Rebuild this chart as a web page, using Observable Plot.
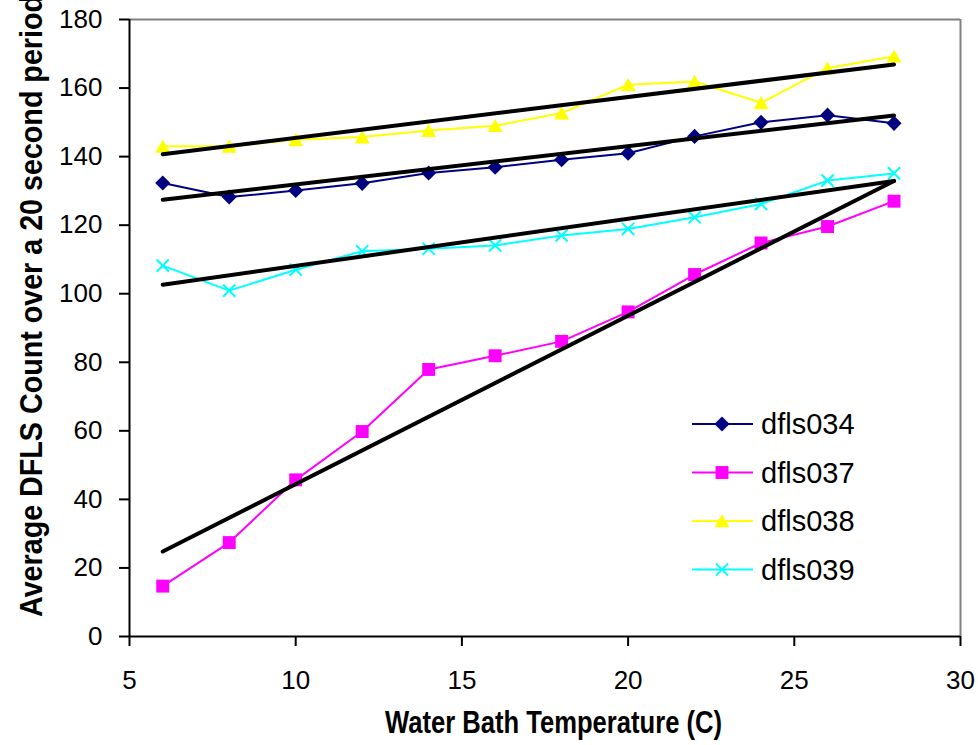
<!DOCTYPE html>
<html><head><meta charset="utf-8">
<script src="https://cdn.jsdelivr.net/npm/d3@7"></script>
<script src="https://cdn.jsdelivr.net/npm/@observablehq/plot@0.6"></script>
<style>body{margin:0;background:#fff;} svg{display:block;}</style>
</head><body><div id="chart"></div>
<script>
const temps = [6, 8, 10, 12, 14, 16, 18, 20, 22, 24, 26, 28];
const dfls034 = [132.3, 128.2, 130.1, 132.2, 135.2, 136.9, 139.1, 141.0, 145.9, 150.0, 152.1, 149.7];
const dfls037 = [14.7, 27.4, 45.7, 59.8, 77.9, 81.9, 86.1, 94.7, 105.6, 114.8, 119.6, 127.0];
const dfls038 = [143.0, 143.0, 144.9, 145.7, 147.6, 149.0, 152.7, 161.0, 161.9, 155.7, 165.8, 169.3];
const dfls039 = [108.2, 100.9, 107.0, 112.4, 113.1, 114.1, 117.0, 118.9, 122.3, 126.2, 133.0, 135.1];
const seriesNames = ["dfls034", "dfls037", "dfls038", "dfls039"];
const seriesColors = ["#000080", "#FF00FF", "#FFFF00", "#00FFFF"];
const seriesSymbols = ["diamond2", "square", "triangle", "times"];
// linear trend lines, read at their ends (t = 6 and t = 28)
const trendTemps = [6, 28];
const trendStart = [127.4, 24.8, 140.7, 102.6];
const trendEnd = [152.0, 132.9, 166.9, 132.9];
const xTicks = [5, 10, 15, 20, 25, 30];
const yTicks = [0, 20, 40, 60, 80, 100, 120, 140, 160, 180];
const xTitle = "Water Bath Temperature (C)";
const yTitle = "Average DFLS Count over a 20 second period";

const allValues = [dfls034, dfls037, dfls038, dfls039];
const rows = seriesNames.flatMap((name, i) => temps.map((t, j) => ({series: name, temp: t, value: allValues[i][j]})));
const trendRows = seriesNames.flatMap((name, i) => [
  {series: name, temp: trendTemps[0], value: trendStart[i]},
  {series: name, temp: trendTemps[1], value: trendEnd[i]}
]);

const symStyle = {
  diamond2: {r: 6.8, fillMode: true},
  square: {r: 7.3, fillMode: true},
  triangle: {r: 5.6, fillMode: true, dy: 2},
  times: {r: 5.6, fillMode: false}
};

const dotMarks = seriesNames.map((name, i) => {
  const s = symStyle[seriesSymbols[i]];
  const data = rows.filter(d => d.series === name);
  return s.fillMode
    ? Plot.dot(data, {x: "temp", y: "value", symbol: () => seriesSymbols[i], r: s.r, fill: seriesColors[i], stroke: "none", dy: s.dy || 0})
    : Plot.dot(data, {x: "temp", y: "value", symbol: () => seriesSymbols[i], r: s.r, fill: "none", stroke: seriesColors[i], strokeWidth: 2});
});

const chart = Plot.plot({
  width: 978,
  height: 745,
  marginLeft: 129,
  marginRight: 18,
  marginTop: 19,
  marginBottom: 109,
  style: {font: "26px 'Liberation Sans', Arial, sans-serif", color: "#000", background: "#fff"},
  x: {domain: [5, 30]},
  y: {domain: [0, 180]},
  symbol: {domain: seriesSymbols, range: seriesSymbols},
  marks: [
    Plot.ruleY([180], {stroke: "#808080", strokeWidth: 2}),
    Plot.ruleX([30], {stroke: "#808080", strokeWidth: 2}),
    Plot.axisX(xTicks, {tickSize: 10, tickPadding: 24, strokeWidth: 2, fontSize: 26, label: null}),
    Plot.axisY(yTicks, {tickSize: 10, tickPadding: 17, strokeWidth: 2, fontSize: 26, label: null}),
    Plot.ruleX([5], {stroke: "#000", strokeWidth: 2}),
    Plot.ruleY([0], {stroke: "#000", strokeWidth: 2}),
    Plot.line(rows, {x: "temp", y: "value", z: "series", stroke: d => seriesColors[seriesNames.indexOf(d.series)], strokeWidth: 2}),
    ...dotMarks,
    Plot.line(trendRows, {x: "temp", y: "value", z: "series", stroke: "#000", strokeWidth: 4})
  ]
});
document.getElementById("chart").appendChild(chart);

const svg = d3.select(chart);
const titleFont = "'Liberation Sans Narrow', 'Arial Narrow', 'Liberation Sans', Arial, sans-serif";
svg.append("text")
  .attr("x", 385).attr("y", 733)
  .attr("text-anchor", "start")
  .attr("font-family", titleFont).attr("font-size", 32).attr("font-weight", "bold")
  .attr("textLength", 337).attr("lengthAdjust", "spacingAndGlyphs")
  .attr("fill", "#000")
  .text(xTitle);
svg.append("text")
  .attr("transform", "translate(42,617) rotate(-90)")
  .attr("text-anchor", "start")
  .attr("font-family", titleFont).attr("font-size", 32).attr("font-weight", "bold")
  .attr("textLength", 622).attr("lengthAdjust", "spacingAndGlyphs")
  .attr("fill", "#000")
  .text(yTitle);

// legend
const d3Sym = {diamond2: d3.symbolDiamond2, square: d3.symbolSquare, triangle: d3.symbolTriangle, times: d3.symbolTimes};
const lg = svg.append("g");
seriesNames.forEach((name, i) => {
  const cy = 424 + i * 48.5;
  const s = symStyle[seriesSymbols[i]];
  lg.append("line").attr("x1", 692).attr("x2", 753).attr("y1", cy).attr("y2", cy)
    .attr("stroke", seriesColors[i]).attr("stroke-width", 2);
  const p = lg.append("path")
    .attr("d", d3.symbol(d3Sym[seriesSymbols[i]], s.r * s.r * Math.PI)())
    .attr("transform", `translate(722,${cy + (s.dy || 0)})`);
  if (s.fillMode) p.attr("fill", seriesColors[i]);
  else p.attr("fill", "none").attr("stroke", seriesColors[i]).attr("stroke-width", 2);
  lg.append("text").attr("x", 761).attr("y", cy).attr("dy", "0.36em")
    .attr("text-anchor", "start")
    .attr("font-family", "'Liberation Sans', Arial, sans-serif").attr("font-size", 29)
    .attr("fill", "#000").text(name);
});
</script>
</body></html>
